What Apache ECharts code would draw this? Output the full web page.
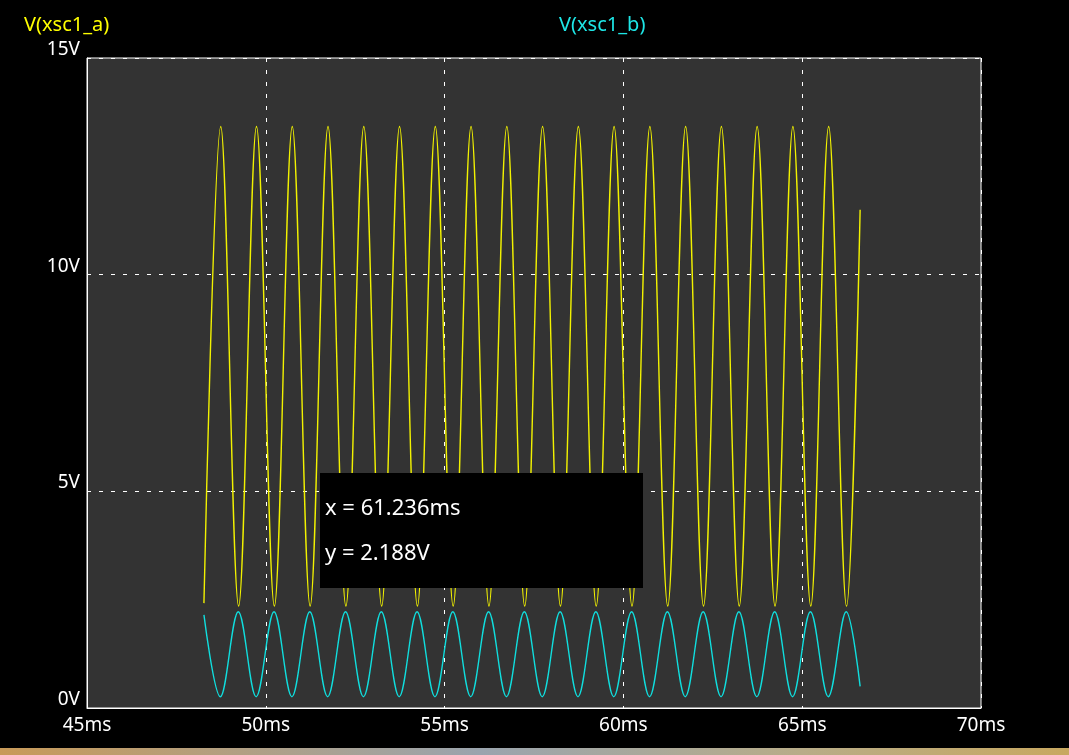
<!DOCTYPE html>
<html>
<head>
<meta charset="utf-8">
<script src="https://cdn.jsdelivr.net/npm/echarts@6/dist/echarts.min.js"></script>
<style>
  html, body { margin: 0; padding: 0; background: #000; }
  #main { width: 1069px; height: 755px; }
</style>
</head>
<body>
<div id="main"></div>
<script>
// peaks / troughs (ms, V)
var yellowTime = [48.27, 48.74, 49.24, 49.74, 50.24, 50.74, 51.24, 51.74, 52.24, 52.74, 53.24,
  53.74, 54.24, 54.74, 55.24, 55.74, 56.24, 56.74, 57.24, 57.74, 58.24, 58.74, 59.24, 59.74,
  60.24, 60.74, 61.24, 61.74, 62.24, 62.74, 63.24, 63.74, 64.24, 64.74, 65.24, 65.74, 66.24, 66.62];
var yellowVolt = [2.42, 13.42, 2.35, 13.42, 2.35, 13.42, 2.35, 13.42, 2.35, 13.42, 2.35,
  13.42, 2.35, 13.42, 2.35, 13.42, 2.35, 13.42, 2.35, 13.42, 2.35, 13.42, 2.35, 13.42,
  2.35, 13.42, 2.35, 13.42, 2.35, 13.42, 2.35, 13.42, 2.35, 13.42, 2.35, 13.42, 2.35, 11.5];

var cyanTime = [48.27, 48.73, 49.23, 49.73, 50.23, 50.73, 51.23, 51.73, 52.23, 52.73, 53.23,
  53.73, 54.23, 54.73, 55.23, 55.73, 56.23, 56.73, 57.23, 57.73, 58.23, 58.73, 59.23, 59.73,
  60.23, 60.73, 61.23, 61.73, 62.23, 62.73, 63.23, 63.73, 64.23, 64.73, 65.23, 65.73, 66.23, 66.62];
var cyanVolt = [2.15, 0.26, 2.22, 0.26, 2.22, 0.26, 2.22, 0.26, 2.22, 0.26, 2.22,
  0.26, 2.22, 0.26, 2.22, 0.26, 2.22, 0.26, 2.22, 0.26, 2.22, 0.26, 2.22, 0.26,
  2.22, 0.26, 2.22, 0.26, 2.22, 0.26, 2.22, 0.26, 2.22, 0.26, 2.22, 0.26, 2.22, 0.5];

var cursorText = ['x = 61.236ms', 'y = 2.188V'];

function pairs(t, v) {
  var out = [];
  for (var i = 0; i < t.length; i++) {
    out.push([t[i], v[i]]);
  }
  return out;
}

var font = 'Noto Sans';
var myChart = echarts.init(document.getElementById('main'));

var option = {
  animation: false,
  backgroundColor: '#000',
  grid: {
    left: 87, top: 58, right: 88, bottom: 47,
    show: true,
    backgroundColor: '#333333',
    borderColor: '#ffffff',
    borderWidth: 1
  },
  xAxis: {
    type: 'value',
    min: 45, max: 70, interval: 5,
    axisLine: { show: true, lineStyle: { color: '#fff', width: 1 } },
    axisTick: { show: false },
    axisLabel: {
      color: '#fff', fontFamily: font, fontSize: 19, margin: 8,
      formatter: '{value}ms'
    },
    splitLine: { show: true, lineStyle: { color: '#fff', type: [4, 8], width: 1 } }
  },
  yAxis: {
    type: 'value',
    min: 0, max: 15, interval: 5,
    axisLine: { show: true, lineStyle: { color: '#fff', width: 1 } },
    axisTick: { show: false },
    axisLabel: {
      color: '#fff', fontFamily: font, fontSize: 19, margin: 7,
      verticalAlign: 'bottom', lineHeight: 17,
      formatter: '{value}V'
    },
    splitLine: { show: true, lineStyle: { color: '#fff', type: [4, 8], width: 1 } }
  },
  series: [
    {
      name: 'V(xsc1_a)',
      type: 'line',
      data: pairs(yellowTime, yellowVolt),
      smooth: 0.36,
      showSymbol: false,
      lineStyle: { color: '#f2f200', width: 1.4 }
    },
    {
      name: 'V(xsc1_b)',
      type: 'line',
      data: pairs(cyanTime, cyanVolt),
      smooth: 0.36,
      showSymbol: false,
      lineStyle: { color: '#10dede', width: 1.4 }
    }
  ],
  graphic: [
    {
      type: 'text', left: 24, top: 15,
      style: { text: 'V(xsc1_a)', fill: '#ffff00', font: '20px "' + font + '"' }
    },
    {
      type: 'text', left: 559, top: 15,
      style: { text: 'V(xsc1_b)', fill: '#1ee6e6', font: '20px "' + font + '"' }
    },
    {
      type: 'rect', left: 320, top: 473, z: 100,
      shape: { width: 323, height: 115 },
      style: { fill: '#000' }
    },
    {
      type: 'text', left: 325, top: 498, z: 101,
      style: { text: cursorText[0], fill: '#fff', font: '22px "' + font + '"' }
    },
    {
      type: 'text', left: 325, top: 543, z: 101,
      style: { text: cursorText[1], fill: '#fff', font: '22px "' + font + '"' }
    },
    {
      type: 'rect', left: 0, top: 748, z: 100,
      shape: { width: 1069, height: 7 },
      style: {
        fill: new echarts.graphic.LinearGradient(0, 0, 1, 0, [
          { offset: 0, color: '#c89a58' },
          { offset: 0.45, color: '#9aa4ae' },
          { offset: 0.75, color: '#b8ac88' },
          { offset: 1, color: '#c8a860' }
        ])
      }
    }
  ]
};

myChart.setOption(option);
</script>
</body>
</html>
